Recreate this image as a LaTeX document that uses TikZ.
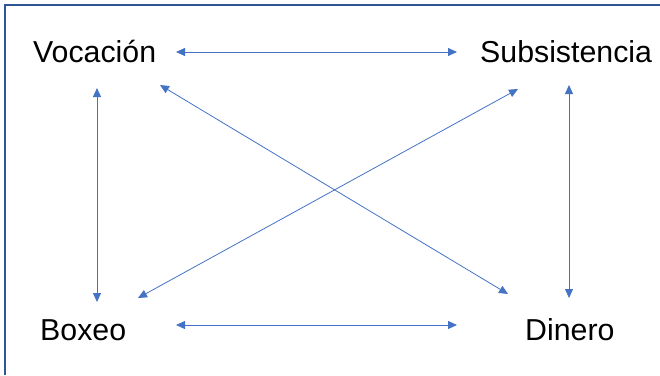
\documentclass[tikz,border=0pt]{standalone}
\usepackage{fontspec}
\setmainfont{Liberation Sans}
\usetikzlibrary{arrows.meta}
\definecolor{arrowblue}{HTML}{4472C4}
\definecolor{framecol}{HTML}{2F5597}
\tikzset{
  lbl/.style={inner sep=0pt, anchor=base west, font=\fontsize{30.3}{36}\selectfont},
  link/.style={draw=arrowblue, line width=0.8pt, {Triangle[length=9pt,width=8pt]}-{Triangle[length=9pt,width=8pt]}},
  framel/.style={draw=framecol, line width=2pt}
}
\begin{document}
\begin{tikzpicture}[x=1pt,y=-1pt]
\useasboundingbox (0,0) rectangle (660,375);
\coordinate (fbl) at (5,375);
\coordinate (ftl) at (5,5);
\coordinate (ftr) at (660,5);
\draw[framel] (fbl) -- (ftl) -- (ftr);
\node[lbl] (voc) at (33,62) {Vocación};
\node[lbl] (sub) at (480,62) {Subsistencia};
\node[lbl] (box) at (40,340) {Boxeo};
\node[lbl] (din) at (525,340) {Dinero};
\coordinate (a1) at (176,52);
\coordinate (a2) at (457,52);
\coordinate (b1) at (176,325);
\coordinate (b2) at (457,325);
\coordinate (c1) at (97,88);
\coordinate (c2) at (97,302);
\coordinate (d1) at (569,85);
\coordinate (d2) at (569,298);
\coordinate (e1) at (160,85);
\coordinate (e2) at (508,294);
\coordinate (f1) at (138,298);
\coordinate (f2) at (518,89);
\draw[link] (a1) -- (a2);
\draw[link] (b1) -- (b2);
\draw[link] (c1) -- (c2);
\draw[link] (d1) -- (d2);
\draw[link] (e1) -- (e2);
\draw[link] (f1) -- (f2);
\end{tikzpicture}
\end{document}
